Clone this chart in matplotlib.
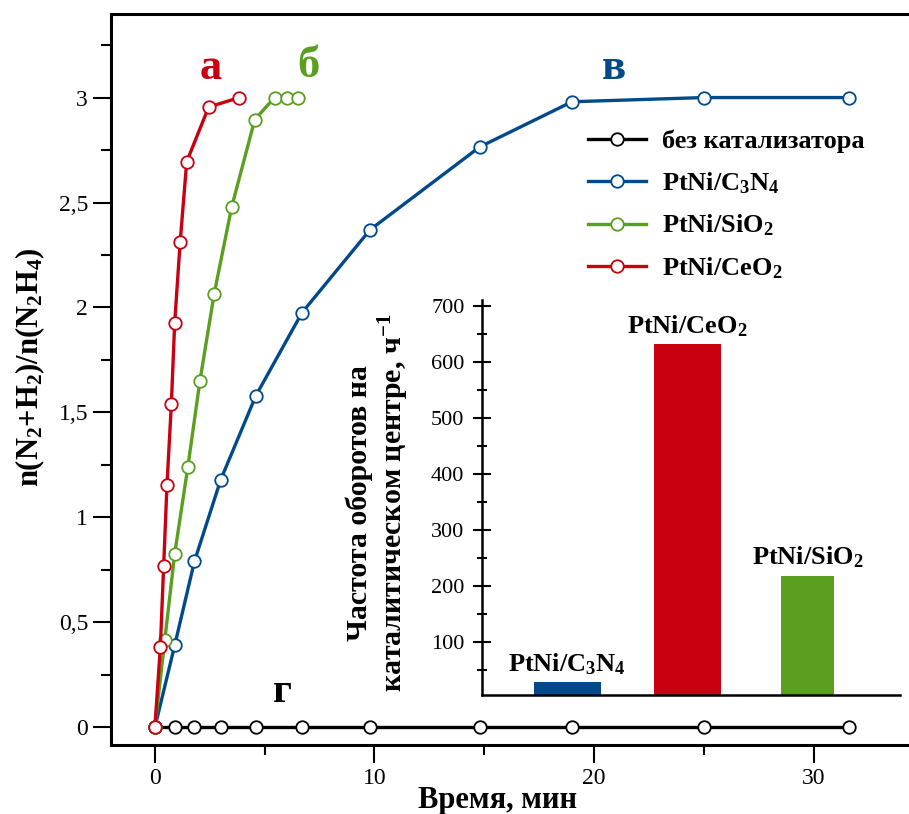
import matplotlib

matplotlib.use("Agg")
import matplotlib.pyplot as plt
from matplotlib.ticker import FuncFormatter, MultipleLocator

plt.rcParams["font.family"] = ["Liberation Serif", "DejaVu Serif"]
plt.rcParams["mathtext.fontset"] = "custom"
plt.rcParams["mathtext.rm"] = "Liberation Serif:bold"
plt.rcParams["mathtext.it"] = "Liberation Serif:bold"
plt.rcParams["mathtext.bf"] = "Liberation Serif:bold"
plt.rcParams["mathtext.default"] = "rm"

# ---------------------------------------------------------------------------
# Data
# ---------------------------------------------------------------------------
t_blank = [0, 0.9, 1.8, 3.0, 4.6, 6.7, 9.8, 14.8, 19.0, 25.0, 31.6]
y_blank = [0, 0, 0, 0, 0, 0, 0, 0, 0, 0, 0]

t_c3n4 = [0, 0.9, 1.8, 3.0, 4.6, 6.7, 9.8, 14.8, 19.0, 25.0, 31.6]
y_c3n4 = [0, 0.39, 0.79, 1.18, 1.58, 1.975, 2.37, 2.765, 2.98, 3.0, 3.0]

t_sio2 = [0, 0.45, 0.9, 1.5, 2.05, 2.7, 3.5, 4.55, 5.45, 6.0, 6.5]
y_sio2 = [0, 0.415, 0.825, 1.24, 1.65, 2.065, 2.48, 2.895, 3.0, 3.0, 3.0]

t_ceo2 = [0, 0.25, 0.4, 0.55, 0.75, 0.9, 1.15, 1.45, 2.45, 3.85]
y_ceo2 = [0, 0.385, 0.77, 1.155, 1.54, 1.925, 2.31, 2.695, 2.955, 3.0]

series_names = ["без катализатора", "PtNi/C$_3$N$_4$", "PtNi/SiO$_2$", "PtNi/CeO$_2$"]

# inset: turnover frequency
tof_names = ["PtNi/C$_3$N$_4$", "PtNi/CeO$_2$", "PtNi/SiO$_2$"]
tof_values = [28, 631, 218]

RED = "#c8000f"
BLUE = "#004a8c"
GREEN = "#5a9f20"
BLACK = "#000000"

fig = plt.figure(figsize=(9.09, 8.14), dpi=100)

# ---------------------------------------------------------------------------
# Main plot
# ---------------------------------------------------------------------------
ax = fig.add_axes([0.1221, 0.0848, 0.8779, 0.898])
marker_kw = dict(marker="o", markersize=9, markerfacecolor="white", markeredgewidth=1.3)
for t, y, c, name in [
    (t_blank, y_blank, BLACK, series_names[0]),
    (t_c3n4, y_c3n4, BLUE, series_names[1]),
    (t_sio2, y_sio2, GREEN, series_names[2]),
    (t_ceo2, y_ceo2, RED, series_names[3]),
]:
    ax.plot(t, y, color=c, lw=2.4, markeredgecolor=c, label=name,
            clip_on=False, **marker_kw)

ax.set_xlim(-2, 34.35)
ax.set_ylim(-0.084, 3.398)
ax.xaxis.set_major_locator(MultipleLocator(10))
ax.xaxis.set_minor_locator(MultipleLocator(5))
ax.yaxis.set_major_locator(MultipleLocator(0.5))
ax.yaxis.set_minor_locator(MultipleLocator(0.25))
ax.yaxis.set_major_formatter(FuncFormatter(lambda v, _: f"{v:g}".replace(".", ",")))
ax.tick_params(which="major", direction="out", length=13, width=1.5, labelsize=17, pad=3.5)
ax.tick_params(which="minor", direction="out", length=7, width=1.5)
ax.spines["right"].set_visible(False)
for s in ("left", "top", "bottom"):
    ax.spines[s].set_linewidth(2.2)

# curve letters
ax.text(2.55, 3.14, "а", color=RED, fontsize=32, fontweight="bold", ha="center", va="center")
ax.text(7.0, 3.15, "б", color=GREEN, fontsize=32, fontweight="bold", ha="center", va="center")
ax.text(20.9, 3.14, "в", color=BLUE, fontsize=32, fontweight="bold", ha="center", va="center")
ax.text(5.8, 0.17, "г", color=BLACK, fontsize=30, fontweight="bold", ha="center", va="center")

ax.legend(loc="upper left", bbox_to_anchor=(0.6469, 0.8403), bbox_transform=fig.transFigure,
          frameon=False, borderpad=0, borderaxespad=0, handlelength=2.2,
          handletextpad=0.6, labelspacing=0.64, prop={"size": 19, "weight": "bold"})

fig.text(30 / 909, 1 - 367 / 814, r"n(N$_2$+H$_2$)/n(N$_2$H$_4$)", rotation=90,
         fontsize=22, fontweight="bold", ha="center", va="center")
fig.text(498 / 909, 1 - 808 / 814, "Время, мин", fontsize=22, fontweight="bold",
         ha="center", va="baseline")

# ---------------------------------------------------------------------------
# Inset bar chart
# ---------------------------------------------------------------------------
ax_in = fig.add_axes([0.530, 0.1462, 0.460, 0.4852])
bar_colors = [BLUE, RED, GREEN]
bar_widths = [0.556, 0.556, 0.444]
pos = list(range(len(tof_values)))
ax_in.bar(pos, tof_values, width=bar_widths, color=bar_colors)
for p, v, name in zip(pos, tof_values, tof_names):
    ax_in.text(p, v + 20, name, ha="center", va="baseline", fontsize=19, fontweight="bold")

ax_in.set_xlim(-0.713, 2.77)
ax_in.set_ylim(5, 710)
ax_in.set_xticks([])
ax_in.yaxis.set_major_locator(MultipleLocator(100))
ax_in.yaxis.set_minor_locator(MultipleLocator(50))
ax_in.tick_params(which="major", direction="inout", length=13, width=1.5, labelsize=16, pad=6)
ax_in.tick_params(which="minor", direction="inout", length=7, width=1.5)
ax_in.spines["top"].set_visible(False)
ax_in.spines["right"].set_visible(False)
for s in ("left", "bottom"):
    ax_in.spines[s].set_linewidth(1.8)
ax_in.patch.set_alpha(0)

fig.text(378 / 909, 1 - 503 / 814,
         "Частота оборотов на\nкаталитическом центре, ч$^{-1}$",
         rotation=90, fontsize=21.5, fontweight="bold", ha="center", va="center",
         multialignment="center", linespacing=1.15)

fig.savefig("out.png", dpi=100)
